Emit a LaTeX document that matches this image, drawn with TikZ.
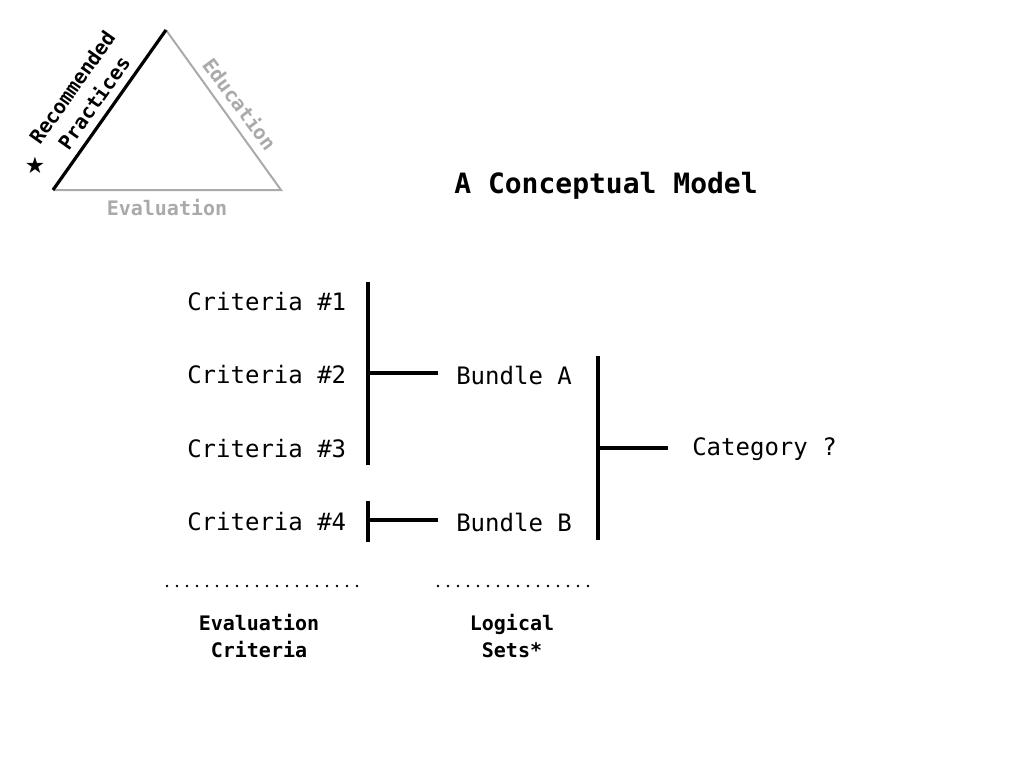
\documentclass[tikz,border=0pt]{standalone}
\usepackage{fontspec}
\setmainfont{DejaVu Sans Mono}
\newfontfamily\symfont{DejaVu Sans}
\definecolor{lightgray}{HTML}{AAAAAA}
\begin{document}
\begin{tikzpicture}[x=0.75pt,y=-0.75pt,
  lbl/.style={inner sep=0pt,font=\fontsize{18}{22}\selectfont},
  capt/.style={inner sep=0pt,align=center,font=\fontsize{15}{20}\selectfont\bfseries},
  bar/.style={line width=2.4pt},
  dots/.style={line width=2pt,dash pattern=on 0pt off 7.5pt,line cap=round}]
\useasboundingbox (0,0) rectangle (1024,768);
% triangle
\coordinate (tl) at (53,190);
\coordinate (tt) at (166,30);
\coordinate (tr) at (281,190);
\draw[lightgray,line width=1.5pt] (tt) -- (tr) -- (tl);
\draw[line width=2.4pt] (tl) -- (tt);
\node[capt,rotate=54.8] (rp) at (83,95) {Recommended\\Practices};
\node[capt,text=lightgray,rotate=-53.5] (ed) at (240,104) {Education};
\node[capt,text=lightgray] (ev) at (167,208) {Evaluation};
\node[inner sep=0pt,font=\symfont\fontsize{17}{17}\selectfont] (star) at (35,165) {★};
% title
\node[inner sep=0pt,font=\fontsize{21}{24}\selectfont\bfseries] (title) at (606,186) {A Conceptual Model};
% criteria
\node[lbl,anchor=west] (c1) at (187,302) {Criteria \#1};
\node[lbl,anchor=west] (c2) at (187,375) {Criteria \#2};
\node[lbl,anchor=west] (c3) at (187,449) {Criteria \#3};
\node[lbl,anchor=west] (c4) at (187,522) {Criteria \#4};
\node[lbl,anchor=west] (ba) at (456,375) {Bundle A};
\node[lbl,anchor=west] (bb) at (456,522) {Bundle B};
\node[lbl,anchor=west] (cat) at (692,449) {Category ?};
% brackets
\coordinate (b1t) at (368,282); \coordinate (b1b) at (368,465);
\coordinate (b1m) at (368,373); \coordinate (b1e) at (438,373);
\coordinate (b2t) at (368,501); \coordinate (b2b) at (368,542);
\coordinate (b2m) at (368,520); \coordinate (b2e) at (438,520);
\coordinate (b3t) at (598,356); \coordinate (b3b) at (598,540);
\coordinate (b3m) at (598,448); \coordinate (b3e) at (668,448);
\draw[bar] (b1t) -- (b1b);
\draw[bar] (b1m) -- (b1e);
\draw[bar] (b2t) -- (b2b);
\draw[bar] (b2m) -- (b2e);
\draw[bar] (b3t) -- (b3b);
\draw[bar] (b3m) -- (b3e);
% dotted lines
\coordinate (d1a) at (167,586); \coordinate (d1b) at (359,586);
\coordinate (d2a) at (438,586); \coordinate (d2b) at (595,586);
\draw[dots] (d1a) -- (d1b);
\draw[dots] (d2a) -- (d2b);
% bottom captions
\node[capt] (ec) at (259,636) {Evaluation\\Criteria};
\node[capt] (ls) at (512,636) {Logical\\Sets*};
\end{tikzpicture}
\end{document}
